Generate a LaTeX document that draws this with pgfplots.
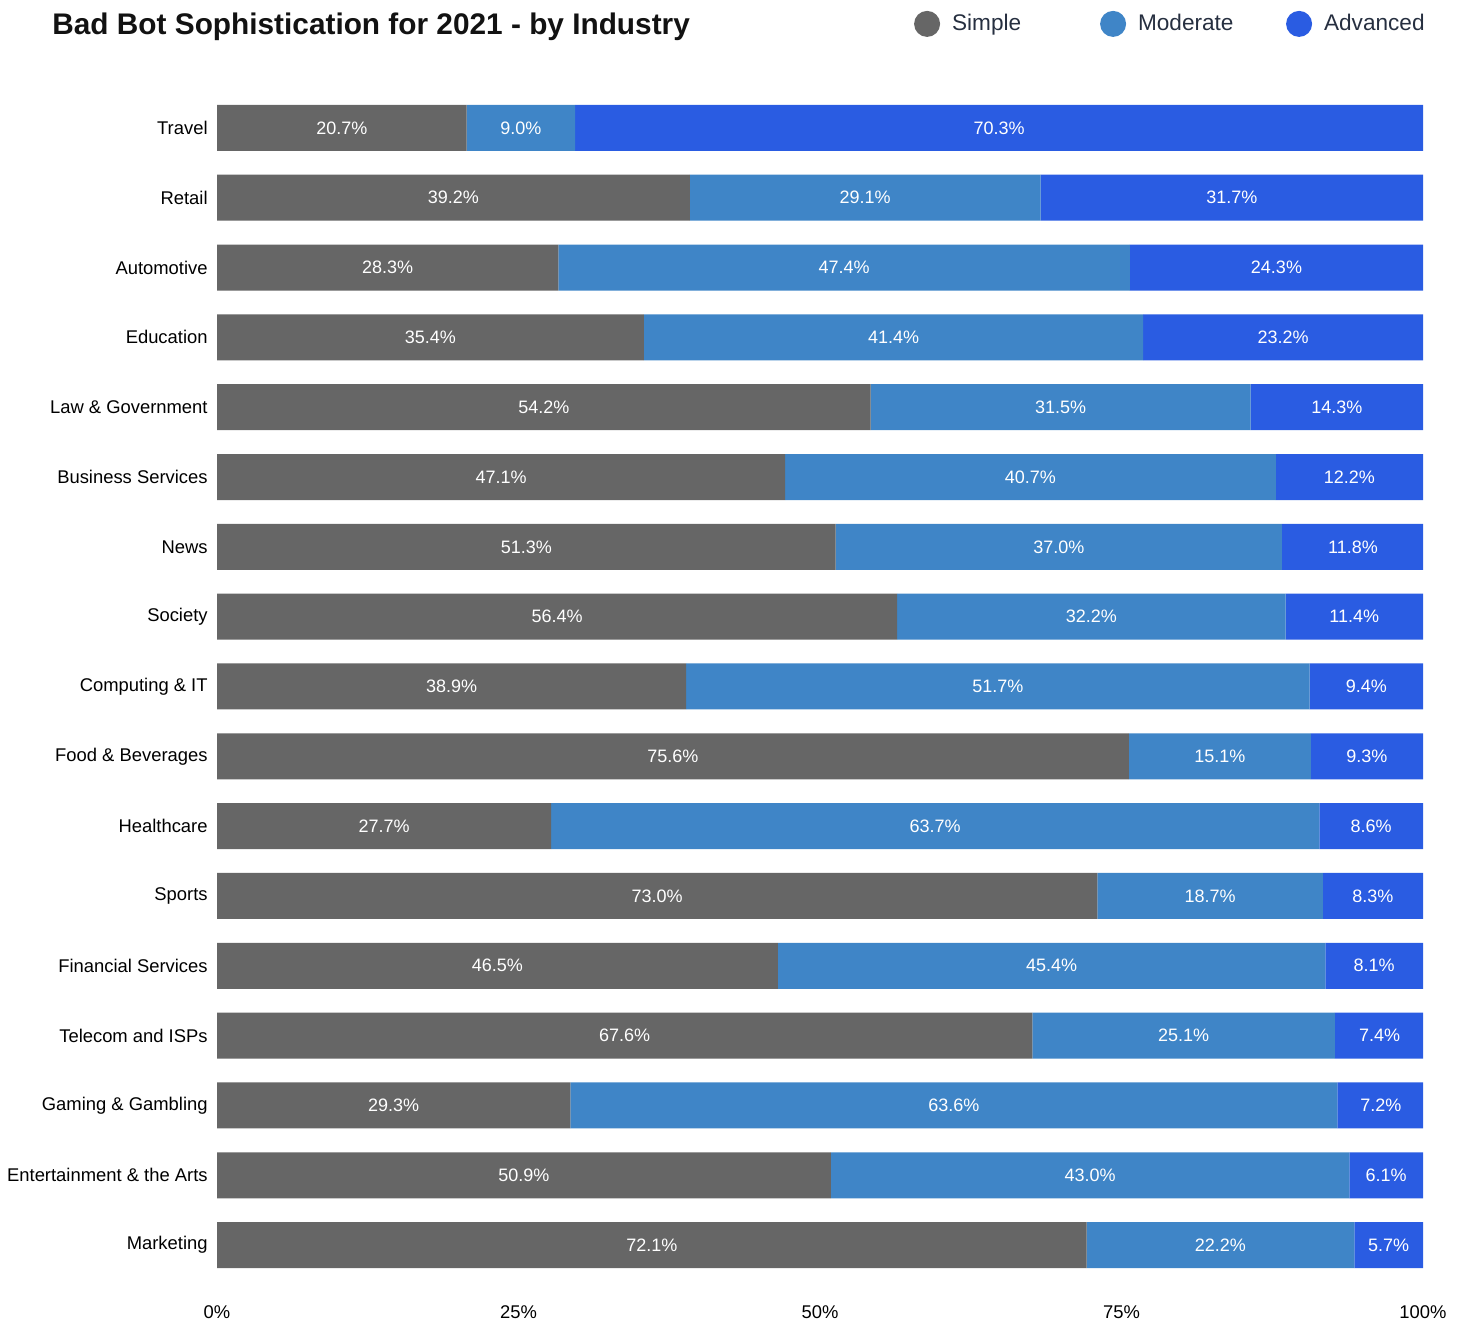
\documentclass[border=0pt]{standalone}
\usepackage{pgfplots}
\pgfplotsset{compat=1.18}
\usepackage{pgfplotstable}
\usepackage{fontspec}
\setmainfont{Liberation Sans}
\setsansfont{Liberation Sans}
\definecolor{csimple}{HTML}{666666}
\definecolor{cmod}{HTML}{3F85C7}
\definecolor{cadv}{HTML}{2A5CE2}
\definecolor{legtext}{HTML}{262F40}

\pgfplotstableread{
y s m a
16 20.7 9.0 70.3
15 39.2 29.1 31.7
14 28.3 47.4 24.3
13 35.4 41.4 23.2
12 54.2 31.5 14.3
11 47.1 40.7 12.2
10 51.3 37.0 11.8
9 56.4 32.2 11.4
8 38.9 51.7 9.4
7 75.6 15.1 9.3
6 27.7 63.7 8.6
5 73.0 18.7 8.3
4 46.5 45.4 8.1
3 67.6 25.1 7.4
2 29.3 63.6 7.2
1 50.9 43.0 6.1
0 72.1 22.2 5.7
}\datatable

\begin{document}
\begin{tikzpicture}
\path[use as bounding box] (0,0) rectangle (732.5pt,661pt);
\pgfplotsset{
  base/.style={
    at={(108.5pt,21pt)}, anchor=south west,
    scale only axis, width=603pt, height=593.5pt,
    xmin=0, xmax=100, ymin=-0.5, ymax=16.5,
    axis line style={draw=none}, major tick length=0pt,
    tick label style={font=\fontsize{9.2pt}{11pt}\selectfont, inner sep=0pt},
    /pgf/number format/assume math mode=true,
  }
}
\begin{axis}[base,
  xbar stacked, bar width=23pt,
  xtick={0,25,50,75,100},
  xticklabels={0\%,25\%,50\%,75\%,100\%},
  xticklabel shift=12.5pt,
  ytick={0,...,16},
  yticklabels={Marketing,Entertainment \& the Arts,Gaming \& Gambling,Telecom and ISPs,Financial Services,Sports,Healthcare,Food \& Beverages,Computing \& IT,Society,News,Business Services,Law \& Government,Education,Automotive,Retail,Travel},
  yticklabel shift=4.5pt,
  legend columns=3,
  legend style={draw=none, fill=none, at={(1,1)}, anchor=south east, xshift=3pt, yshift=27.5pt,
    font=\fontsize{11.3pt}{13pt}\selectfont\color{legtext}, inner sep=0pt,
    /tikz/every even column/.append style={column sep=8pt}},
  legend image code/.code={\fill[#1] (0.25em,0pt) circle (6.5pt);},
]
\addplot[fill=csimple, draw=none] table[x=s, y=y] {\datatable};
\addlegendentry{\makebox[68pt][l]{\hspace{4pt}Simple}}
\addplot[fill=cmod, draw=none] table[x=m, y=y] {\datatable};
\addlegendentry{\makebox[68pt][l]{\hspace{4pt}Moderate}}
\addplot[fill=cadv, draw=none] table[x=a, y=y] {\datatable};
\addlegendentry{\hspace{4pt}Advanced}
\end{axis}
\begin{axis}[base, xtick=\empty, ytick=\empty,
  nodes near coords={\pgfmathprintnumber[fixed,fixed zerofill,precision=1]{\pgfplotspointmeta}\%},
  every node near coord/.style={anchor=center, text=white, font=\fontsize{9pt}{11pt}\selectfont},
]
\addplot[only marks, mark=none, point meta=explicit] table[x expr=\thisrow{s}/2, y=y, meta=s] {\datatable};
\addplot[only marks, mark=none, point meta=explicit] table[x expr=\thisrow{s}+\thisrow{m}/2, y=y, meta=m] {\datatable};
\addplot[only marks, mark=none, point meta=explicit] table[x expr=\thisrow{s}+\thisrow{m}+\thisrow{a}/2, y=y, meta=a] {\datatable};
\end{axis}
\node[anchor=base west, inner sep=0pt, font=\bfseries\fontsize{14.9pt}{18pt}\selectfont, text=black!93] at (26pt,643.5pt) {Bad Bot Sophistication for 2021 - by Industry};
\end{tikzpicture}
\end{document}
